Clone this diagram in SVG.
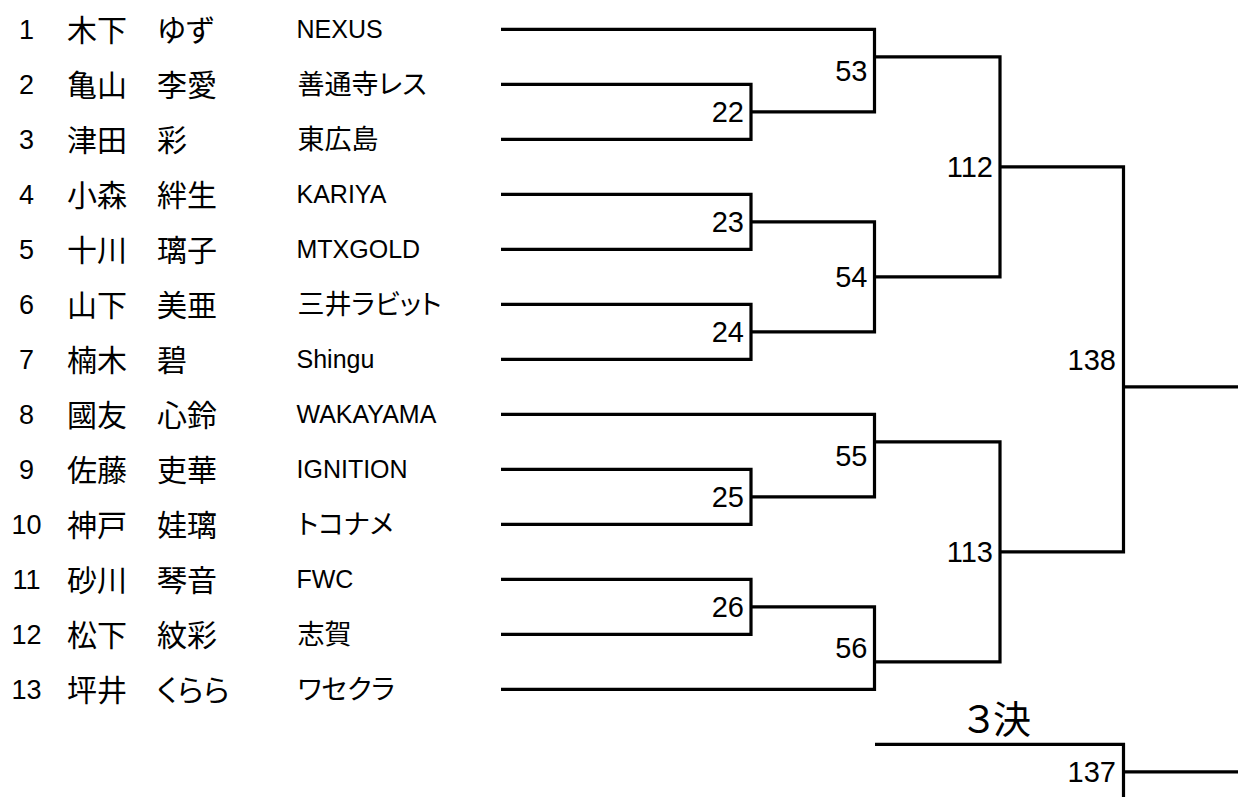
<svg xmlns="http://www.w3.org/2000/svg" width="1238" height="797" viewBox="0 0 1238 797">
<style>
text{font-family:"Liberation Sans","Noto Sans CJK JP",sans-serif;fill:#000}
.no{font-size:27px;text-anchor:middle}
.nm{font-family:"Noto Sans CJK JP",sans-serif;font-size:30px;font-feature-settings:"palt"}
.tl{font-size:25px}
.tc{font-family:"Noto Sans CJK JP",sans-serif;font-size:27px;font-feature-settings:"palt"}
.lb{font-size:29px;text-anchor:end}
.ttl{font-family:"Noto Sans CJK JP",sans-serif;font-size:38px}
.ln{fill:none;stroke:#000;stroke-width:3.2;stroke-linejoin:miter;stroke-linecap:butt}
</style>
<rect width="1238" height="797" fill="#fff"/>
<g id="connectors" class="ln">
<path d="M501,29.3H874.5V111.8H751"/>
<path d="M501,84.3H751V139.3H501"/>
<path d="M501,194.3H751V249.3H501"/>
<path d="M751,221.8H874.5V331.8H751"/>
<path d="M501,304.3H751V359.3H501"/>
<path d="M874.5,56.8H1000V276.8H874.5"/>
<path d="M501,414.3H874.5V496.8H751"/>
<path d="M501,469.3H751V524.3H501"/>
<path d="M874.5,441.8H1000V661.8H874.5"/>
<path d="M501,579.3H751V634.3H501"/>
<path d="M751,606.8H874.5V689.3H501"/>
<path d="M1000,166.8H1123.5V551.8H1000"/>
<path d="M1123.5,386.8H1238"/>
<path d="M875,744.3H1123.5V797"/>
<path d="M1123.5,771.8H1238"/>
</g>
<g id="p1"><text class="no" x="26.5" y="39">1</text><text class="nm" x="67" y="40.8">木下　ゆず</text><text class="tl" x="296.5" y="38.3">NEXUS</text></g>
<g id="p2"><text class="no" x="26.5" y="94">2</text><text class="nm" x="67" y="95.8">亀山　李愛</text><text class="tc" x="297.5" y="94.3">善通寺レス</text></g>
<g id="p3"><text class="no" x="26.5" y="149">3</text><text class="nm" x="67" y="150.8">津田　彩</text><text class="tc" x="297.5" y="149.3">東広島</text></g>
<g id="p4"><text class="no" x="26.5" y="204">4</text><text class="nm" x="67" y="205.8">小森　絆生</text><text class="tl" x="296.5" y="203.3">KARIYA</text></g>
<g id="p5"><text class="no" x="26.5" y="259">5</text><text class="nm" x="67" y="260.8">十川　璃子</text><text class="tl" x="296.5" y="258.3">MTXGOLD</text></g>
<g id="p6"><text class="no" x="26.5" y="314">6</text><text class="nm" x="67" y="315.8">山下　美亜</text><text class="tc" x="297.5" y="314.3">三井ラビット</text></g>
<g id="p7"><text class="no" x="26.5" y="369">7</text><text class="nm" x="67" y="370.8">楠木　碧</text><text class="tl" x="296.5" y="368.3">Shingu</text></g>
<g id="p8"><text class="no" x="26.5" y="424">8</text><text class="nm" x="67" y="425.8">國友　心鈴</text><text class="tl" x="296.5" y="423.3">WAKAYAMA</text></g>
<g id="p9"><text class="no" x="26.5" y="479">9</text><text class="nm" x="67" y="480.8">佐藤　吏華</text><text class="tl" x="296.5" y="478.3">IGNITION</text></g>
<g id="p10"><text class="no" x="26.5" y="534">10</text><text class="nm" x="67" y="535.8">神戸　娃璃</text><text class="tc" x="297.5" y="534.3">トコナメ</text></g>
<g id="p11"><text class="no" x="26.5" y="589">11</text><text class="nm" x="67" y="590.8">砂川　琴音</text><text class="tl" x="296.5" y="588.3">FWC</text></g>
<g id="p12"><text class="no" x="26.5" y="644">12</text><text class="nm" x="67" y="645.8">松下　紋彩</text><text class="tc" x="297.5" y="644.3">志賀</text></g>
<g id="p13"><text class="no" x="26.5" y="699">13</text><text class="nm" x="67" y="700.8">坪井　くらら</text><text class="tc" x="297.5" y="699.3">ワセクラ</text></g>
<g id="m22"><text class="lb" x="744" y="122.2">22</text></g>
<g id="m23"><text class="lb" x="744" y="232.2">23</text></g>
<g id="m24"><text class="lb" x="744" y="342.2">24</text></g>
<g id="m25"><text class="lb" x="744" y="507.2">25</text></g>
<g id="m26"><text class="lb" x="744" y="617.2">26</text></g>
<g id="m53"><text class="lb" x="867.5" y="80.6">53</text></g>
<g id="m54"><text class="lb" x="867.5" y="287.2">54</text></g>
<g id="m55"><text class="lb" x="867.5" y="466">55</text></g>
<g id="m56"><text class="lb" x="867.5" y="658.4">56</text></g>
<g id="m112"><text class="lb" x="993" y="177.2">112</text></g>
<g id="m113"><text class="lb" x="993" y="562.2">113</text></g>
<g id="m138"><text class="lb" x="1116" y="369.7">138</text></g>
<g id="m137"><text class="lb" x="1116" y="782.2">137</text></g>
<g id="title3"><text class="ttl" x="960 993" y="733">３決</text></g>
</svg>
